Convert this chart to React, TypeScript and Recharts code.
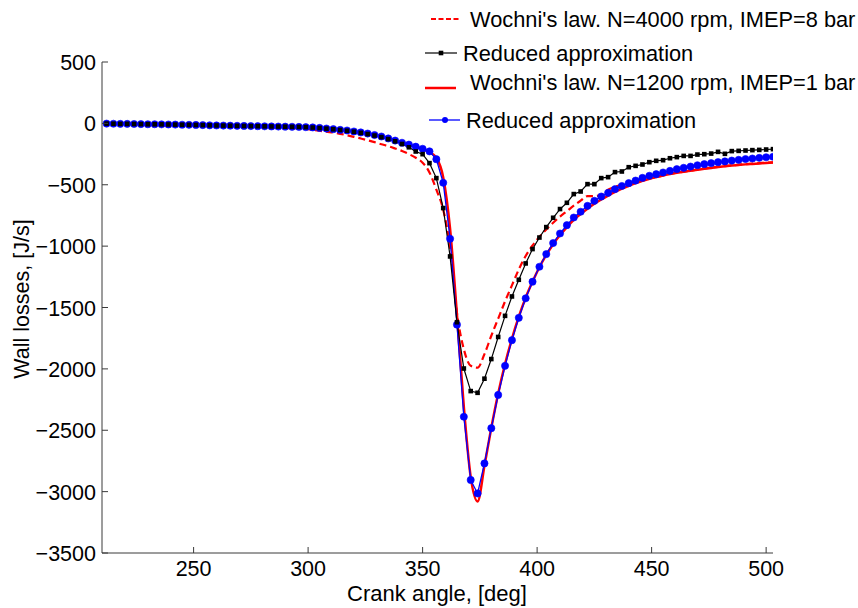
import React from "react";
import { LineChart, Line, XAxis, YAxis } from "recharts";

// crank angle samples, [deg]
const ANGLE = [
  212, 215, 218, 221, 224, 227, 230, 233, 236, 239,
  242, 245, 248, 251, 254, 257, 260, 263, 266, 269,
  272, 275, 278, 281, 284, 287, 290, 293, 296, 299,
  302, 305, 308, 311, 314, 317, 320, 323, 326, 329,
  332, 335, 338, 341, 344, 347, 350, 353, 356, 359,
  362, 365, 368, 371, 374, 377, 380, 383, 386, 389,
  392, 395, 398, 401, 404, 407, 410, 413, 416, 419,
  422, 425, 428, 431, 434, 437, 440, 443, 446, 449,
  452, 455, 458, 461, 464, 467, 470, 473, 476, 479,
  482, 485, 488, 491, 494, 497, 500, 503,
];

// Wochni's law, N=4000 rpm, IMEP=8 bar (red dashed)
const WOCHNI_4000 = [
  -2, -3, -4, -4, -5, -6, -7, -8, -22, -10,
  -11, -12, -13, -14, -15, -17, -18, -20, -21, -23,
  -25, -27, -29, -31, -33, -35, -37, -39, -41, -45,
  -52, -60, -68, -75, -85, -97, -110, -123, -138, -153,
  -170, -186, -205, -225, -250, -280, -320, -400, -540, -704,
  -1010, -1545, -1840, -1975, -1990, -1880, -1730, -1590, -1450, -1320,
  -1190, -1080, -995, -925, -865, -810, -760, -715, -670, -630,
  -592, -592, -585, -540, -517, -500, -490, -478, -466, -452,
  -437, -424, -412, -402, -393, -385, -376, -368, -361, -354,
  -348, -342, -337, -332, -328, -324, -320, -317,
];

// reduced approximation for 4000 rpm (black, squares)
const REDUCED_4000 = [
  -2, -3, -4, -4, -5, -6, -7, -7, -8, -9,
  -10, -11, -12, -13, -14, -16, -17, -18, -19, -20,
  -21, -22, -23, -24, -25, -26, -27, -28, -29, -31,
  -34, -38, -43, -48, -54, -60, -68, -77, -87, -99,
  -112, -128, -146, -168, -195, -229, -251, -324, -446, -690,
  -1084, -1620, -1997, -2181, -2195, -2080, -1920, -1740, -1568, -1410,
  -1274, -1141, -1024, -930, -845, -769, -698, -647, -576, -555,
  -495, -495, -446, -438, -397, -392, -357, -346, -335, -316,
  -305, -300, -284, -275, -265, -265, -254, -251, -246, -232,
  -248, -226, -224, -221, -218, -216, -213, -210,
];

// Wochni's law, N=1200 rpm, IMEP=1 bar (red solid)
const WOCHNI_1200 = [
  -2, -3, -4, -4, -5, -6, -7, -7, -8, -9,
  -10, -11, -12, -13, -14, -16, -17, -18, -19, -20,
  -21, -22, -23, -24, -25, -26, -27, -28, -29, -31,
  -33, -37, -42, -47, -53, -58, -66, -74, -83, -95,
  -107, -123, -140, -158, -173, -191, -210, -235, -280, -440,
  -860, -1560, -2310, -2880, -3080, -2790, -2480, -2200, -1960, -1755,
  -1575, -1420, -1290, -1172, -1072, -985, -910, -845, -785, -738,
  -695, -655, -620, -588, -559, -532, -508, -487, -468, -451,
  -437, -424, -413, -403, -394, -386, -378, -370, -363, -356,
  -350, -344, -339, -334, -330, -326, -322, -319,
];

// reduced approximation for 1200 rpm (blue, dots)
const REDUCED_1200 = [
  -2, -3, -4, -4, -5, -6, -7, -7, -8, -9,
  -10, -11, -12, -13, -14, -16, -17, -18, -19, -20,
  -21, -22, -23, -24, -25, -26, -27, -28, -29, -31,
  -33, -37, -42, -47, -53, -58, -66, -74, -83, -95,
  -107, -123, -140, -158, -173, -190, -207, -228, -292, -484,
  -940, -1640, -2390, -2905, -3015, -2770, -2483, -2212, -1975, -1766,
  -1584, -1425, -1290, -1168, -1065, -975, -897, -829, -767, -720,
  -672, -631, -596, -566, -536, -510, -487, -466, -444, -427,
  -414, -400, -387, -373, -362, -352, -341, -332, -324, -316,
  -310, -303, -297, -291, -286, -281, -276, -272,
];

const X_TICKS = [250, 300, 350, 400, 450, 500];
const Y_TICKS = [-3500, -3000, -2500, -2000, -1500, -1000, -500, 0, 500];

const FONT = "'Liberation Sans', Arial, Helvetica, sans-serif";
const AXIS = "#3a3a3a";

const rows = ANGLE.map((a, i) => ({
  angle: a,
  w4000: WOCHNI_4000[i],
  r4000: REDUCED_4000[i],
  w1200: WOCHNI_1200[i],
  r1200: REDUCED_1200[i],
}));

function fmt(v: number): string {
  return v < 0 ? "\u2212" + Math.abs(v) : String(v);
}

function XTick(props: any) {
  const { x, y, payload } = props;
  return (
    <g>
      <line x1={x} x2={x} y1={y} y2={y - 6} stroke={AXIS} strokeWidth={1} />
      <text x={x} y={y + 23} textAnchor="middle" fontSize={21.5} fontFamily={FONT} fill="#000">
        {fmt(payload.value)}
      </text>
    </g>
  );
}

function YTick(props: any) {
  const { x, y, payload } = props;
  return (
    <g>
      <line x1={x} x2={x + 6} y1={y} y2={y} stroke={AXIS} strokeWidth={1} />
      <text x={x - 6} y={y + 8} textAnchor="end" fontSize={21.5} fontFamily={FONT} fill="#000">
        {fmt(payload.value)}
      </text>
    </g>
  );
}

function Square(props: any) {
  const { cx, cy, index } = props;
  if (cx == null || cy == null) return <g key={`sq-${index}`} />;
  return <rect key={`sq-${index}`} x={cx - 2.3} y={cy - 2.3} width={4.6} height={4.6} fill="#000" />;
}

function Overlay() {
  return (
    <svg
      width={858}
      height={608}
      style={{ position: "absolute", left: 0, top: 0, pointerEvents: "none" }}
      fontFamily={FONT}
    >
      {/* legend */}
      <line x1={431} x2={460} y1={19} y2={19} stroke="#ff0000" strokeWidth={2} strokeDasharray="5 2.5" />
      <text x={470} y={27} fontSize={21.8} fill="#000">Wochni's law. N=4000 rpm, IMEP=8 bar</text>

      <line x1={425} x2={457} y1={53} y2={53} stroke="#000" strokeWidth={1.2} />
      <rect x={438.7} y={50.7} width={4.6} height={4.6} fill="#000" />
      <text x={463} y={61} fontSize={21.8} fill="#000">Reduced approximation</text>

      <line x1={425} x2={456} y1={88} y2={88} stroke="#ff0000" strokeWidth={2.5} />
      <text x={470} y={90} fontSize={21.8} fill="#000">Wochni's law. N=1200 rpm, IMEP=1 bar</text>

      <line x1={429} x2={460} y1={120} y2={120} stroke="#0000ff" strokeWidth={1.3} />
      <circle cx={445} cy={120} r={3} fill="#0000ff" />
      <text x={466} y={128} fontSize={21.8} fill="#000">Reduced approximation</text>

      {/* axis titles */}
      <text x={437} y={601} textAnchor="middle" fontSize={22} fill="#000">Crank angle, [deg]</text>
      <text
        x={0}
        y={0}
        transform="translate(28.5,299) rotate(-90)"
        textAnchor="middle"
        fontSize={21.5}
        fill="#000"
      >
        Wall losses, [J/s]
      </text>
    </svg>
  );
}

export default function App() {
  return (
    <div style={{ position: "fixed", left: 0, top: 0, width: 858, height: 608, background: "#fff" }}>
      <LineChart width={858} height={608} data={rows} margin={{ top: 62, right: 85, bottom: 0, left: 0 }}>
        <XAxis
          dataKey="angle"
          type="number"
          domain={[210, 503]}
          ticks={X_TICKS}
          height={55}
          tickSize={0}
          tickMargin={0}
          tickLine={false}
          tick={<XTick />}
          axisLine={{ stroke: AXIS, strokeWidth: 1 }}
          allowDataOverflow
        />
        <YAxis
          type="number"
          domain={[-3500, 500]}
          ticks={Y_TICKS}
          width={102}
          tickSize={0}
          tickMargin={0}
          tickLine={false}
          tick={<YTick />}
          axisLine={{ stroke: AXIS, strokeWidth: 1 }}
          allowDataOverflow
        />
        <Line
          dataKey="w4000"
          type="monotone"
          stroke="#ff0000"
          strokeWidth={2.2}
          strokeDasharray="7 4"
          dot={false}
          isAnimationActive={false}
        />
        <Line
          dataKey="w1200"
          type="monotone"
          stroke="#ff0000"
          strokeWidth={2.5}
          dot={false}
          isAnimationActive={false}
        />
        <Line
          dataKey="r1200"
          type="linear"
          stroke="#0000ff"
          strokeWidth={1.3}
          dot={{ r: 3.6, fill: "#0000ff", stroke: "#0000ff", strokeWidth: 0.6 }}
          isAnimationActive={false}
        />
        <Line
          dataKey="r4000"
          type="linear"
          stroke="#000"
          strokeWidth={1.2}
          dot={Square}
          isAnimationActive={false}
        />
      </LineChart>
      <Overlay />
    </div>
  );
}
